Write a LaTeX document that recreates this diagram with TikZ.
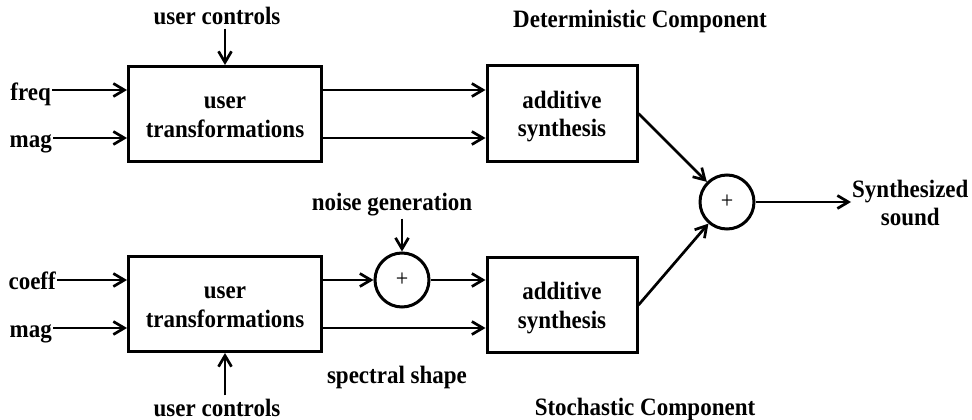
\documentclass[tikz,border=0pt]{standalone}
\usepackage{fontspec}
\setmainfont{Liberation Serif}[FakeStretch=0.92]
\usetikzlibrary{arrows.meta}
\begin{document}
\begin{tikzpicture}[x=1pt,y=-1pt,
  font=\fontsize{25}{28.5}\selectfont\bfseries,
  block/.style={draw,line width=3pt,minimum width=193pt,minimum height=95pt,inner sep=0pt,
    align=center,text height=46pt,text depth=0pt},
  synbox/.style={block,minimum width=150pt},
  summer/.style={draw,circle,line width=3pt,minimum size=54pt,inner sep=0pt,
    font=\fontsize{24}{24}\selectfont\mdseries},
  lbl/.style={inner sep=3pt},
  inlbl/.style={anchor=base east,inner sep=1pt},
  arr/.style={line width=2.7pt,-{Straight Barb[length=11pt,width=13pt]}}
]
\useasboundingbox (0,0) rectangle (972,420);

% signal rows
\coordinate (r1) at (0,90);
\coordinate (r2) at (0,138);
\coordinate (r3) at (0,280);
\coordinate (r4) at (0,328);

% processing blocks
\node[block]  (ut1) at (225,114) {user\\transformations};
\node[synbox] (as1) at (562,113.5) {additive\\synthesis};
\node[block]  (ut2) at (225,304) {user\\transformations};
\node[synbox] (as2) at (562,305) {additive\\synthesis};

% adders
\node[summer] (noise) at (402,280) {+};
\node[summer] (sum)   at (727,202) {+};

% input labels
\node[inlbl] (freq)  at (52,100) {freq};
\node[inlbl] (mag1)  at (53,147) {mag};
\node[inlbl] (coeff) at (57,289) {coeff};
\node[inlbl] (mag2)  at (53,337) {mag};

% other labels
\node[lbl,anchor=base] (uc1)  at (217,25)  {user controls};
\node[lbl,anchor=base] (det)  at (640,28)  {Deterministic Component};
\node[lbl,anchor=base] (ng)   at (392,210) {noise generation};
\node[lbl,anchor=base] (spec) at (397,383) {spectral shape};
\node[lbl,anchor=base] (uc2)  at (217,416) {user controls};
\node[lbl,anchor=base] (sto)  at (645,415) {Stochastic Component};
\node[align=center,anchor=west,inner sep=1pt] (out) at (851,203) {Synthesized\\sound};

% deterministic branch
\draw[arr] (freq.east |- r1) -- (ut1.west |- r1);
\draw[arr] (mag1.east |- r2) -- (ut1.west |- r2);
\draw[arr] (ut1.north |- uc1.south) -- (ut1.north);
\draw[arr] (ut1.east |- r1) -- (as1.west |- r1);
\draw[arr] (ut1.east |- r2) -- (as1.west |- r2);

% stochastic branch
\draw[arr] (coeff.east |- r3) -- (ut2.west |- r3);
\draw[arr] (mag2.east |- r4) -- (ut2.west |- r4);
\draw[arr] (ut2.south |- uc2.north) -- (ut2.south);
\draw[arr] (ut2.east |- noise) -- (noise);
\draw[arr] (noise.north |- ng.south) -- (noise.north);
\draw[arr] (noise) -- (as2.west |- noise);
\draw[arr] (ut2.east |- r4) -- (as2.west |- r4);

% sum and output
\draw[arr] (as1.east) -- (sum);
\draw[arr] (as2.east) -- (sum);
\draw[arr] (sum.east) -- (sum.east -| out.west);
\end{tikzpicture}
\end{document}
